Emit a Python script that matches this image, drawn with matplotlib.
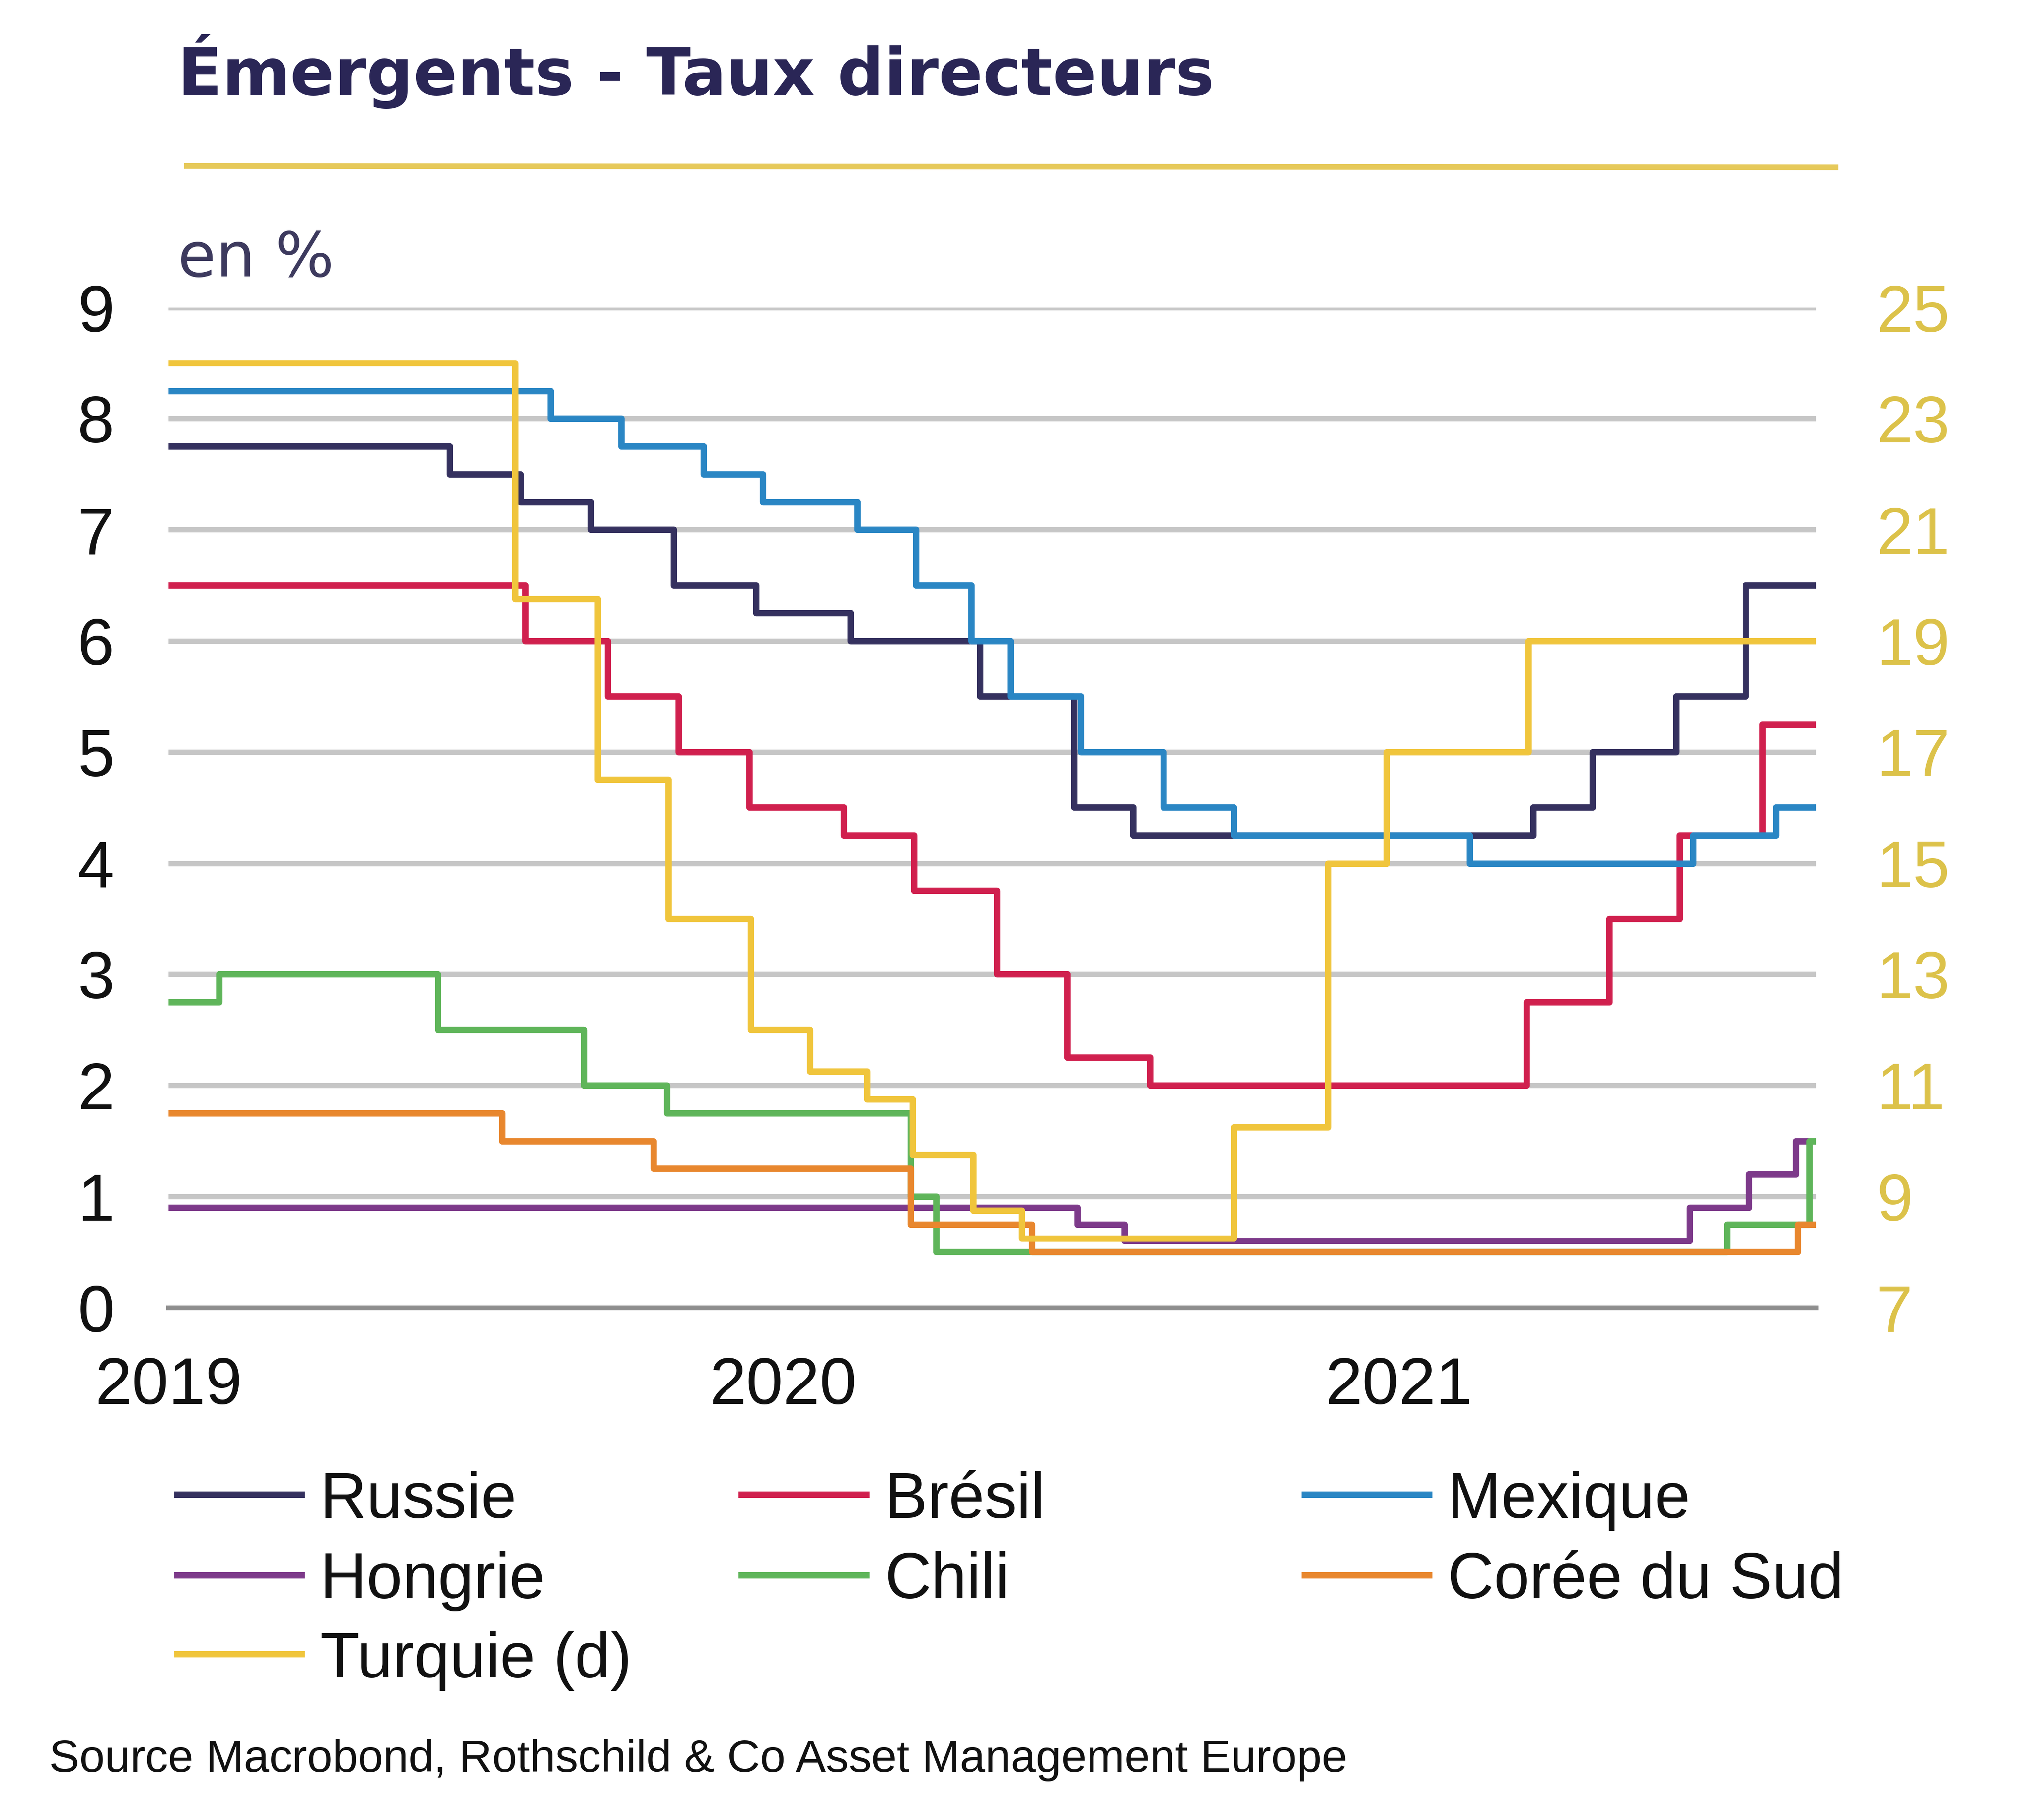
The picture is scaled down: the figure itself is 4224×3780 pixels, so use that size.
import matplotlib
matplotlib.use("Agg")
import matplotlib.pyplot as plt
import pandas as pd
from matplotlib.lines import Line2D

# --- data: policy rate step changes (date of change, new level) ---
end_date = "2021-09-06"

russie_dates = ["2019-01-01", "2019-06-17", "2019-07-29", "2019-09-09", "2019-10-28", "2019-12-16",
                "2020-02-10", "2020-04-27", "2020-06-22", "2020-07-27", "2021-03-22", "2021-04-26",
                "2021-06-15", "2021-07-26"]
russie_vals = [7.75, 7.5, 7.25, 7.0, 6.5, 6.25, 6.0, 5.5, 4.5, 4.25, 4.5, 5.0, 5.5, 6.5]

bresil_dates = ["2019-01-01", "2019-08-01", "2019-09-19", "2019-10-31", "2019-12-12", "2020-02-06",
                "2020-03-19", "2020-05-07", "2020-06-18", "2020-08-06", "2021-03-18", "2021-05-06",
                "2021-06-17", "2021-08-05"]
bresil_vals = [6.5, 6.0, 5.5, 5.0, 4.5, 4.25, 3.75, 3.0, 2.25, 2.0, 2.75, 3.5, 4.25, 5.25]

mexique_dates = ["2019-01-01", "2019-08-16", "2019-09-27", "2019-11-15", "2019-12-20", "2020-02-14",
                 "2020-03-20", "2020-04-22", "2020-05-15", "2020-06-26", "2020-08-14", "2020-09-25",
                 "2021-02-12", "2021-06-25", "2021-08-13"]
mexique_vals = [8.25, 8.0, 7.75, 7.5, 7.25, 7.0, 6.5, 6.0, 5.5, 5.0, 4.5, 4.25, 4.0, 4.25, 4.5]

hongrie_dates = ["2019-01-01", "2020-06-24", "2020-07-22", "2021-06-23", "2021-07-28", "2021-08-25"]
hongrie_vals = [0.9, 0.75, 0.6, 0.9, 1.2, 1.5]

chili_dates = ["2019-01-01", "2019-01-31", "2019-06-10", "2019-09-05", "2019-10-24", "2020-03-17",
               "2020-04-01", "2021-07-15", "2021-09-02"]
chili_vals = [2.75, 3.0, 2.5, 2.0, 1.75, 1.0, 0.5, 0.75, 1.5]

coree_dates = ["2019-01-01", "2019-07-18", "2019-10-16", "2020-03-17", "2020-05-28", "2021-08-26"]
coree_vals = [1.75, 1.5, 1.25, 0.75, 0.5, 0.75]

turquie_dates = ["2019-01-01", "2019-07-26", "2019-09-13", "2019-10-25", "2019-12-13", "2020-01-17",
                 "2020-02-20", "2020-03-18", "2020-04-23", "2020-05-22", "2020-09-25", "2020-11-20",
                 "2020-12-25", "2021-03-19"]
turquie_vals = [24.0, 19.75, 16.5, 14.0, 12.0, 11.25, 10.75, 9.75, 8.75, 8.25, 10.25, 15.0, 17.0, 19.0]

left_ticks = list(range(0, 10))
right_ticks = list(range(7, 26, 2))
year_ticks = ["2019-01-01", "2020-01-01", "2021-01-01"]
year_labels = ["2019", "2020", "2021"]

legend_order = ["Russie", "Brésil", "Mexique", "Hongrie", "Chili", "Corée du Sud", "Turquie (d)"]

colors = {
    "Russie": "#35315f",
    "Brésil": "#d0204e",
    "Mexique": "#2a86c4",
    "Hongrie": "#7d3a8a",
    "Chili": "#5fb55a",
    "Corée du Sud": "#e8872e",
    "Turquie (d)": "#f0c53c",
}


def step_xy(dates, vals):
    x = pd.to_datetime(dates + [end_date])
    y = vals + [vals[-1]]
    return x, y


plt.rcParams['font.family'] = ['Liberation Sans', 'DejaVu Sans']

W, H = 1568.0, 1403.0  # layout measured on a reduced copy of the picture


def fx(px):
    return px / W


def fy(py):
    return 1 - py / H


fig = plt.figure(figsize=(14.08, 12.6), dpi=300)
fig.patch.set_facecolor("white")

ax = fig.add_axes([fx(130), fy(1008), fx(1400) - fx(130), fy(237) - fy(1008)])
ax2 = ax.twinx()

lw = 3.2
lines = {}
for name, d, v in [("Russie", russie_dates, russie_vals),
                   ("Brésil", bresil_dates, bresil_vals),
                   ("Mexique", mexique_dates, mexique_vals),
                   ("Hongrie", hongrie_dates, hongrie_vals),
                   ("Chili", chili_dates, chili_vals),
                   ("Corée du Sud", coree_dates, coree_vals)]:
    x, y = step_xy(d, v)
    lines[name], = ax.step(x, y, where="post", color=colors[name], lw=lw, zorder=3)

x, y = step_xy(turquie_dates, turquie_vals)
lines["Turquie (d)"], = ax2.step(x, y, where="post", color=colors["Turquie (d)"], lw=lw, zorder=3)

ax.set_xlim(pd.Timestamp("2019-01-01"), pd.Timestamp(end_date))
ax.set_ylim(0, 9)
ax2.set_ylim(7, 25)

ax.set_yticks(left_ticks)
ax2.set_yticks(right_ticks)
ax.set_xticks(pd.to_datetime(year_ticks))
ax.set_xticklabels(year_labels)

ax.grid(axis="y", color="#c6c6c6", lw=2.6)
ax.set_axisbelow(True)

for a in (ax, ax2):
    for s in ("top", "left", "right"):
        a.spines[s].set_visible(False)
ax2.spines["bottom"].set_visible(False)
ax.spines["bottom"].set_color("#8e8e8e")
ax.spines["bottom"].set_linewidth(2.6)

ax.tick_params(axis="y", length=0, pad=27, labelsize=33, labelcolor="#111111")
ax.tick_params(axis="x", length=0, pad=24, labelsize=33, labelcolor="#111111")
ax2.tick_params(axis="y", length=0, pad=30, labelsize=33, labelcolor="#dcc24a")

# title block
fig.text(fx(137), fy(73), "Émergents - Taux directeurs", fontsize=32.5, fontweight="bold",
         family="DejaVu Sans", color="#2a2656", va="baseline", ha="left")
fig.add_artist(Line2D([fx(144), fx(1415)], [fy(128), fy(129)], transform=fig.transFigure,
                      color="#e6c95a", lw=2.8))
fig.text(fx(137), fy(213), "en %", fontsize=31, family="DejaVu Sans", color="#3d3a5e",
         va="baseline", ha="left")

# legend, laid out in three columns
col_x = [134, 569, 1003]
row_y = [1152, 1214, 1275]
for i, name in enumerate(legend_order):
    cx = col_x[i % 3]
    ry = row_y[i // 3]
    fig.add_artist(Line2D([fx(cx), fx(cx + 101)], [fy(ry), fy(ry)], transform=fig.transFigure,
                          color=lines[name].get_color(), lw=3.2, solid_capstyle="butt"))
    fig.text(fx(cx + 113), fy(ry + 18), name, fontsize=32, color="#111111",
             va="baseline", ha="left")

fig.text(fx(38), fy(1366), "Source Macrobond, Rothschild & Co Asset Management Europe",
         fontsize=22.7, color="#111111", va="baseline", ha="left")

fig.savefig("out.png", dpi=300, facecolor="white")
